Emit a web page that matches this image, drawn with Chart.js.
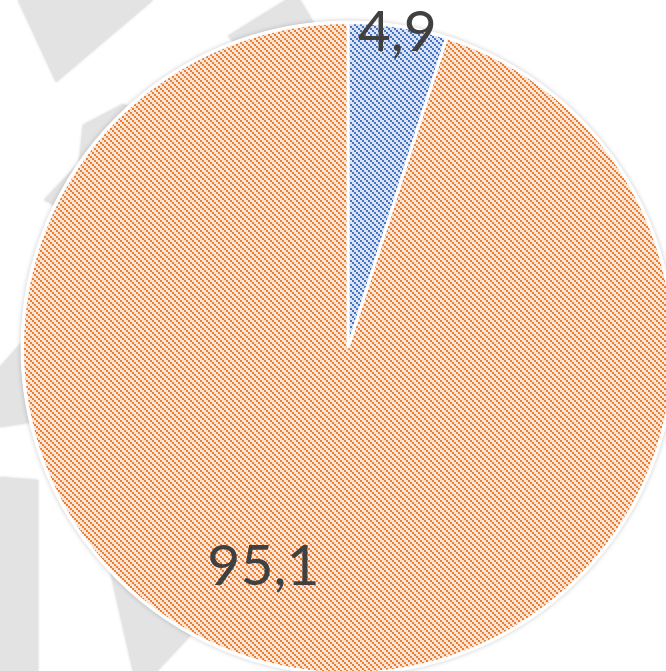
<!DOCTYPE html>
<html>
<head>
<meta charset="utf-8">
<script src="https://cdn.jsdelivr.net/npm/chart.js@4.4.1/dist/chart.umd.min.js"></script>
<style>
  html, body { margin: 0; padding: 0; background: #fff; overflow: hidden; }
  #wrap { position: relative; width: 666px; height: 671px; overflow: hidden; }
  #pizza { position: absolute; left: 0; top: 0; }
</style>
</head>
<body>
<div id="wrap"><canvas id="pizza" width="700" height="700"></canvas></div>
<script>
// Dados do gráfico
const categorias = ['Categoria 1', 'Categoria 2'];
const valores = [4.9, 95.1];

// Posição dos rótulos: desvio do ângulo médio (graus) e fração do raio
const desvioAngulo = [0, 12.5];
const fracaoRaio = [0.985, 0.715];

// Hachura diagonal (estilo Excel): quadradinhos 2x2 em escada
function hachura(claro, escuro) {
  const c = document.createElement('canvas');
  c.width = 6; c.height = 6;
  const g = c.getContext('2d');
  g.fillStyle = claro;
  g.fillRect(0, 0, 6, 6);
  g.fillStyle = escuro;
  for (let y = 0; y < 6; y++) {
    for (let x = 0; x < 6; x++) {
      const d = (Math.floor(x / 2) - Math.floor(y / 2) + 3) % 3;
      if (d === 0) g.fillRect(x, y, 1, 1);
    }
  }
  return g.createPattern(c, 'repeat');
}

// Formas cinzas do fundo (decoração)
const formasFundo = [
  [[18, 0], [153, 0], [56, 82]],
  [[123, 104], [83, 125], [79, 163], [44, 200], [160, 260], [210, 140]],
  [[0, 367], [22, 342], [60, 380], [60, 418], [0, 427]],
  [[0, 477], [38, 480], [38, 671], [0, 671]],
  [[107, 557], [133, 671], [157, 671], [190, 636], [210, 560]],
  [[228, 36], [286, 0], [300, 0], [315, 25], [260, 70]]
];

const fundo = {
  id: 'fundo',
  beforeDraw(chart) {
    const ctx = chart.ctx;
    ctx.save();
    ctx.fillStyle = '#e3e3e3';
    ctx.shadowColor = 'rgba(0,0,0,0.18)';
    ctx.shadowBlur = 3;
    formasFundo.forEach(p => {
      ctx.beginPath();
      ctx.moveTo(p[0][0], p[0][1]);
      p.slice(1).forEach(([x, y]) => ctx.lineTo(x, y));
      ctx.closePath();
      ctx.fill();
    });
    ctx.restore();
  },
  beforeDatasetsDraw(chart) {
    // aro branco com leve sombra em volta da pizza
    const arco = chart.getDatasetMeta(0).data[0];
    const ctx = chart.ctx;
    ctx.save();
    ctx.fillStyle = '#fff';
    ctx.shadowColor = 'rgba(0,0,0,0.2)';
    ctx.shadowBlur = 5;
    ctx.beginPath();
    ctx.arc(arco.x, arco.y, arco.outerRadius + 2, 0, Math.PI * 2);
    ctx.fill();
    ctx.restore();
  }
};

const rotulos = {
  id: 'rotulos',
  afterDatasetsDraw(chart) {
    const ctx = chart.ctx;
    const meta = chart.getDatasetMeta(0);
    ctx.save();
    ctx.font = '57px Lato, Calibri, sans-serif';
    ctx.fillStyle = '#404040';
    ctx.textAlign = 'center';
    ctx.textBaseline = 'alphabetic';
    meta.data.forEach((arco, i) => {
      const ang = (arco.startAngle + arco.endAngle) / 2 + desvioAngulo[i] * Math.PI / 180;
      const r = arco.outerRadius * fracaoRaio[i];
      const x = arco.x + Math.cos(ang) * r;
      const y = arco.y + Math.sin(ang) * r;
      const texto = valores[i].toFixed(1).replace('.', ',');
      ctx.fillText(texto, x, y + 20);
    });
    ctx.restore();
  }
};

const ctx = document.getElementById('pizza').getContext('2d');
new Chart(ctx, {
  type: 'pie',
  data: {
    labels: categorias,
    datasets: [{
      data: valores,
      backgroundColor: [hachura('#dae3f3', '#4472c4'), hachura('#fbe5d6', '#ed7d31')],
      borderColor: '#ffffff',
      borderWidth: 3
    }]
  },
  options: {
    responsive: false,
    animation: false,
    layout: { padding: { left: 21, top: 21, right: 25, bottom: 25 } },
    plugins: {
      legend: { display: false },
      tooltip: { enabled: false }
    }
  },
  plugins: [fundo, rotulos]
});
</script>
</body>
</html>
